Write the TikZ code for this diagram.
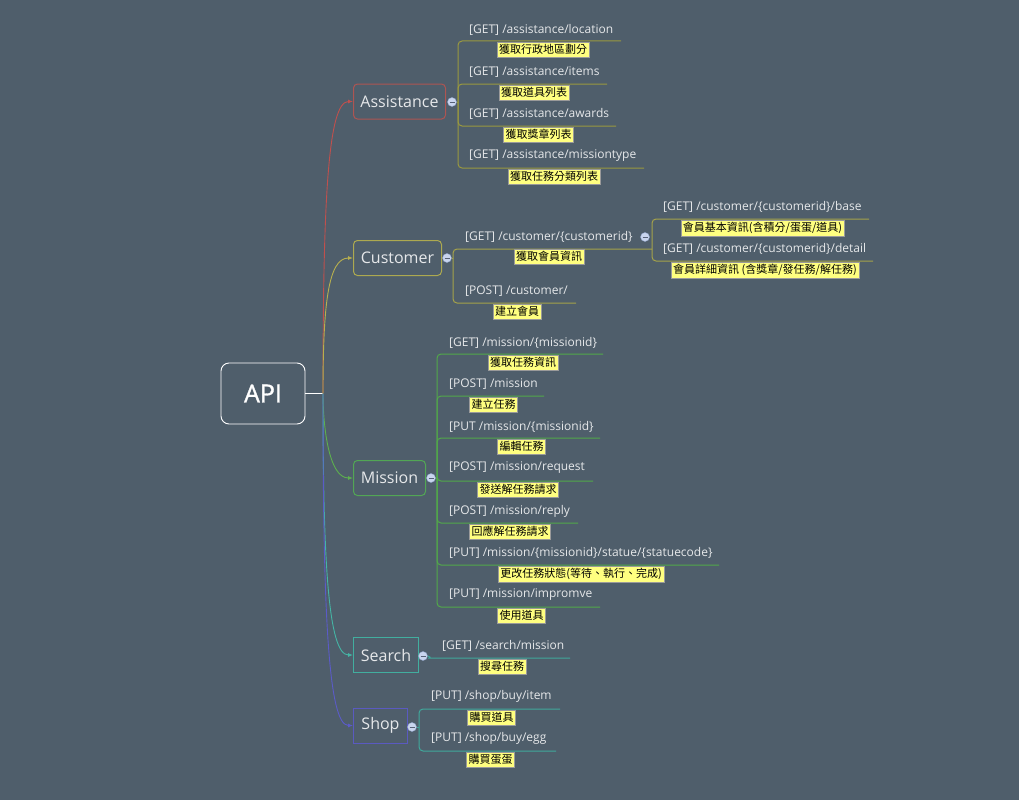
\documentclass[tikz,border=0pt]{standalone}
\usepackage{fontspec}
\setmainfont{Open Sans}
\newfontfamily\cjk{Noto Sans CJK TC}
\newfontfamily\apifont[FakeBold=1.2]{Open Sans}
\usepackage{tikz}
\usetikzlibrary{arrows.meta,positioning}

\definecolor{bgc}{HTML}{4F5E6B}
\definecolor{txt}{HTML}{E6E8EA}
\definecolor{notebg}{HTML}{FFFF80}
\definecolor{notebd}{HTML}{9A9A9A}
\definecolor{knob}{HTML}{C9D5EE}
\definecolor{knobbd}{HTML}{8FA2C6}
% main branch colours
\definecolor{cA}{HTML}{C0504D}
\definecolor{cC}{HTML}{B8B04E}
\definecolor{cM}{HTML}{5DB04E}
\definecolor{cS}{HTML}{45B5A5}
\definecolor{cP}{HTML}{5B5BC8}
% topic borders
\definecolor{bA}{HTML}{AE5552}
\definecolor{bC}{HTML}{ADA950}
\definecolor{bM}{HTML}{52A655}
\definecolor{bS}{HTML}{42AE9F}
\definecolor{bP}{HTML}{5A5AC0}
% sub lines
\definecolor{lA}{HTML}{9A993F}
\definecolor{lC}{HTML}{A5A24A}
\definecolor{lM}{HTML}{52A84A}
\definecolor{lS}{HTML}{40A89C}

\begin{document}
\begin{tikzpicture}[x=1pt,y=-1pt,
  root/.style={draw=white, line width=0.9pt, rounded corners=8pt, text=white,
    minimum width=84pt, minimum height=61pt, font=\apifont\fontsize{25}{28}\selectfont},
  topic/.style={draw, line width=1pt, text=txt, anchor=west, minimum height=35pt,
    inner xsep=0pt, font=\fontsize{16}{18}\selectfont},
  lbl/.style={anchor=west, inner sep=0pt, text=txt, font=\fontsize{12}{14}\selectfont},
  note/.style={anchor=north, draw=notebd, fill=notebg, text=black, inner xsep=2pt,
    inner ysep=2.2pt, font=\cjk\fontsize{11}{12}\selectfont},
  knobnode/.style={circle, draw=knobbd, fill=knob, minimum size=9pt, inner sep=0pt,
    path picture={\draw[knobbd!60!black, line width=0.8pt]
      ([xshift=-2.5pt]path picture bounding box.center) --
      ([xshift=2.5pt]path picture bounding box.center);}},
  branch/.style={line width=0.9pt, -{Latex[length=5pt,width=4pt]}},
  sub/.style={line width=1pt, rounded corners=4pt}]

\fill[bgc] (0,0) rectangle (1019,800);
\useasboundingbox (0,0) rectangle (1019,800);

% root
\node[root] (api) at (263,393.5) {API};
\coordinate (hub) at (323,393.5);
\draw[white, line width=0.9pt] (api.east) -- (hub);

% main topics
\node[topic, draw=bA, rounded corners=4pt, minimum width=92pt] (assist) at (353,101.5) {Assistance};
\node[topic, draw=bC, rounded corners=4pt, minimum width=88pt] (cust) at (353,258) {Customer};
\node[topic, draw=bM, rounded corners=4pt, minimum width=72pt] (miss) at (353,478) {Mission};
\node[topic, draw=bS, minimum width=65pt] (search) at (353,655) {Search};
\node[topic, draw=bP, minimum width=54pt] (shop) at (353,725.5) {Shop};

\draw[branch, cA] (hub) .. controls (323,200) and (328,101.5) .. (assist.west);
\draw[branch, cC] (hub) .. controls (323,305) and (328,258) .. (cust.west);
\draw[branch, cM] (hub) .. controls (323,423) and (328,478) .. (miss.west);
\draw[branch, cS] (hub) .. controls (323,560) and (328,655) .. (search.west);
\draw[branch, cP] (hub) .. controls (323,610) and (328,725.5) .. (shop.west);

% Assistance
\node[knobnode] (kA) at (452,102) {};
\coordinate (jA) at (458,102);
\draw[sub, lA] (kA.east) -- (jA);
\node[lbl] (as1) at (469,30) {[GET] /assistance/location};
\node[lbl] (as2) at (469,72) {[GET] /assistance/items};
\node[lbl] (as3) at (469,114) {[GET] /assistance/awards};
\node[lbl] (as4) at (469,156) {[GET] /assistance/missiontype};
\coordinate (as1u) at (621,41);
\coordinate (as2u) at (607,84);
\coordinate (as3u) at (616,126);
\coordinate (as4u) at (644,168);
\draw[sub, lA] (jA) |- (as1u);
\draw[sub, lA] (jA) |- (as2u);
\draw[sub, lA] (jA) |- (as3u);
\draw[sub, lA] (jA) |- (as4u);
\node[note] (as1n) at (543,42) {獲取行政地區劃分};
\node[note] (as2n) at (534,85) {獲取道具列表};
\node[note] (as3n) at (538.5,127) {獲取獎章列表};
\node[note] (as4n) at (554,169) {獲取任務分類列表};

% Customer
\node[knobnode] (kC) at (447,258) {};
\coordinate (jC) at (453,258);
\draw[sub, lC] (kC.east) -- (jC);
\node[lbl] (cu1) at (465,237) {[GET] /customer/\{customerid\}};
\node[lbl] (cu2) at (465,291) {[POST] /customer/};
\coordinate (jC2) at (652,249);
\coordinate (cu2u) at (576,303);
\draw[sub, lC] (jC) |- (jC2);
\draw[sub, lC] (jC) |- (cu2u);
\node[note] (cu1n) at (549,249) {獲取會員資訊};
\node[note] (cu2n) at (517,304) {建立會員};
\node[knobnode] (kC2) at (645,237) {};
\node[lbl] (cu11) at (663,207) {[GET] /customer/\{customerid\}/base};
\node[lbl] (cu12) at (663,249) {[GET] /customer/\{customerid\}/detail};
\coordinate (cu11u) at (869,219);
\coordinate (cu12u) at (873,261);
\draw[sub, lC] (jC2) |- (cu11u);
\draw[sub, lC] (jC2) |- (cu12u);
\node[note] (cu11n) at (762.5,220) {會員基本資訊(含積分/蛋蛋/道具)};
\node[note] (cu12n) at (765,262) {會員詳細資訊 (含獎章/發任務/解任務)};

% Mission
\node[knobnode] (kM) at (431,478) {};
\coordinate (jM) at (437,478);
\draw[sub, lM] (kM.east) -- (jM);
\node[lbl] (mi1) at (449,343) {[GET] /mission/\{missionid\}};
\node[lbl] (mi2) at (449,384) {[POST] /mission};
\node[lbl] (mi3) at (449,427) {[PUT /mission/\{missionid\}};
\node[lbl] (mi4) at (449,468) {[POST] /mission/request};
\node[lbl] (mi5) at (449,511) {[POST] /mission/reply};
\node[lbl] (mi6) at (449,553) {[PUT] /mission/\{missionid\}/statue/\{statuecode\}};
\node[lbl] (mi7) at (449,595) {[PUT] /mission/impromve};
\coordinate (mi1u) at (603,354);
\coordinate (mi2u) at (544,396);
\coordinate (mi3u) at (600,438);
\coordinate (mi4u) at (593,481);
\coordinate (mi5u) at (578,523);
\coordinate (mi6u) at (719,565);
\coordinate (mi7u) at (600,607);
\draw[sub, lM] (jM) |- (mi1u);
\draw[sub, lM] (jM) |- (mi2u);
\draw[sub, lM] (jM) |- (mi3u);
\draw[sub, lM] (jM) |- (mi4u);
\draw[sub, lM] (jM) |- (mi5u);
\draw[sub, lM] (jM) |- (mi6u);
\draw[sub, lM] (jM) |- (mi7u);
\node[note] (mi1n) at (523,355) {獲取任務資訊};
\node[note] (mi2n) at (493.5,397) {建立任務};
\node[note] (mi3n) at (521.5,439) {編輯任務};
\node[note] (mi4n) at (518,482) {發送解任務請求};
\node[note] (mi5n) at (510,524) {回應解任務請求};
\node[note] (mi6n) at (581,566) {更改任務狀態(等待、執行、完成)};
\node[note] (mi7n) at (521.5,608) {使用道具};

% Search
\node[knobnode] (kS) at (423,656) {};
\node[lbl] (se1) at (442,646) {[GET] /search/mission};
\coordinate (se1u) at (570,658);
\draw[sub, lS] (kS.east) to[out=0,in=180] (433,658) -- (se1u);
\node[note] (se1n) at (502,659) {搜尋任務};

% Shop
\node[knobnode] (kP) at (412,727) {};
\coordinate (jP) at (419,727);
\draw[sub, lS] (kP.east) -- (jP);
\node[lbl] (sh1) at (431,696) {[PUT] /shop/buy/item};
\node[lbl] (sh2) at (431,738) {[PUT] /shop/buy/egg};
\coordinate (sh1u) at (560,709);
\coordinate (sh2u) at (556,751);
\draw[sub, lS] (jP) |- (sh1u);
\draw[sub, lS] (jP) |- (sh2u);
\node[note] (sh1n) at (491.5,710) {購買道具};
\node[note] (sh2n) at (490.5,752) {購買蛋蛋};
\end{tikzpicture}
\end{document}
